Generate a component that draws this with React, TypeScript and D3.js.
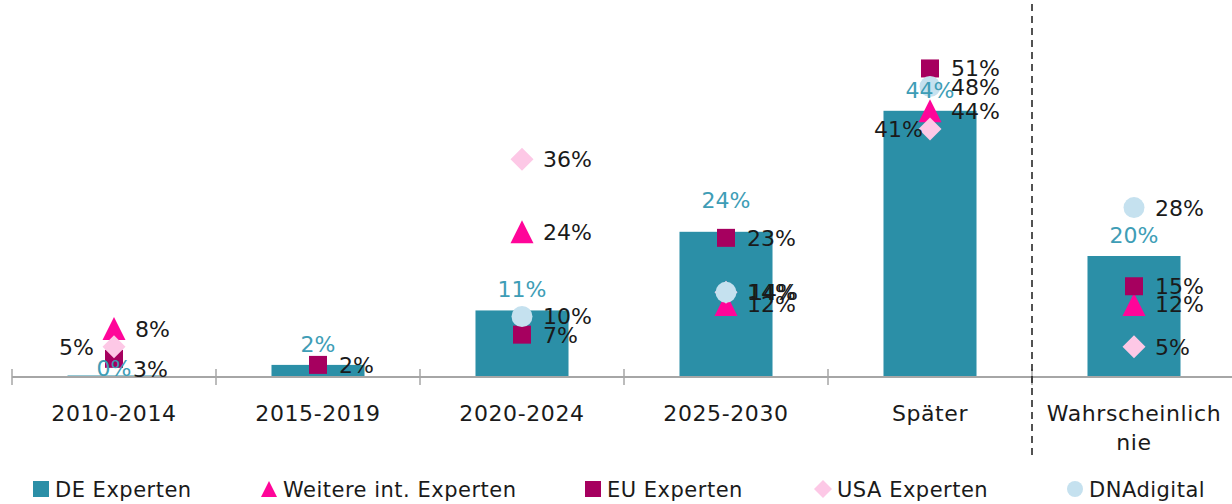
import * as d3 from "d3";

// categories on the x axis
const categories = ["2010-2014", "2015-2019", "2020-2024", "2025-2030", "Später", "Wahrscheinlich nie"];
const tickLines = [["2010-2014"], ["2015-2019"], ["2020-2024"], ["2025-2030"], ["Später"], ["Wahrscheinlich", "nie"]];

// values in percent, null = no answer
const deExperten = [0, 2, 11, 24, 44, 20];
const weitereExperten = [8, null, 24, 12, 44, 12];
const euExperten = [3, 2, 7, 23, 51, 15];
const usaExperten = [5, null, 36, 14, 41, 5];
const dnaDigital = [null, null, 10, 14, 48, 28];

const W = 1232;
const H = 504;
const baseY = 377;

// isoceles triangle and square-diamond, like the office markers
const tri = {
  draw(ctx: any, size: number) {
    const s = Math.sqrt(size);
    ctx.moveTo(0, -s / 2);
    ctx.lineTo(s / 2, s / 2);
    ctx.lineTo(-s / 2, s / 2);
    ctx.closePath();
  },
};
const dia = {
  draw(ctx: any, size: number) {
    const s = Math.sqrt(size) / 2;
    ctx.moveTo(0, -s);
    ctx.lineTo(s, 0);
    ctx.lineTo(0, s);
    ctx.lineTo(-s, 0);
    ctx.closePath();
  },
};

const series = [
  { name: "Weitere int. Experten", values: weitereExperten, color: "#FF0599", type: tri, size: 23 * 23, legendSize: 16 * 16 },
  { name: "EU Experten", values: euExperten, color: "#A6005F", type: d3.symbolSquare, size: 18 * 18, legendSize: 16 * 16 },
  { name: "USA Experten", values: usaExperten, color: "#FDC8E6", type: dia, size: 23 * 23, legendSize: 18 * 18 },
  { name: "DNAdigital", values: dnaDigital, color: "#C5E1EF", type: d3.symbolCircle, size: Math.PI * 10.5 * 10.5, legendSize: Math.PI * 8 * 8 },
];

// label tweaks where the original moved labels by hand
const nudge: Record<string, { dx?: number; dy?: number; left?: boolean }> = {
  "EU Experten-0": { dy: 10, dx: -2 },
  "USA Experten-0": { left: true },
  "USA Experten-4": { left: true, dx: 13 },
  "USA Experten-3": { dx: 2 },
};
const deNudge = [12, 0, 0, -11, 0, 0];

const legendX = [33, 261, 585, 815, 1067];

export default function App() {
  const x = d3.scaleBand().domain(categories).range([12, 12 + 204 * categories.length]).padding(0);
  const y = d3.scaleLinear().domain([0, 60]).range([baseY, baseY - 60 * 6.05]);
  const bw = x.bandwidth() * 0.456;
  const cx = (c: string) => (x(c) as number) + x.bandwidth() / 2;
  const font = "DejaVu Sans, Verdana, sans-serif";

  const legendItems = [
    { name: "DE Experten", color: "#2B8FA7", type: d3.symbolSquare, legendSize: 16 * 16 },
    ...series,
  ];

  return (
    <svg width={W} height={H} style={{ position: "absolute", left: 0, top: 0 }} fontFamily={font}>
      {/* bars */}
      {categories.map((c, i) => (
        <rect key={c} x={cx(c) - bw / 2} y={y(deExperten[i]) - (deExperten[i] === 0 ? 1.5 : 0)}
          width={bw} height={Math.max(1.5, baseY - y(deExperten[i]))} fill="#2B8FA7" />
      ))}

      {/* axis line + ticks */}
      <line x1={12} x2={W} y1={baseY} y2={baseY} stroke="#A6A6A6" strokeWidth={2} />
      {d3.range(categories.length + 1).map((i) => {
        const tx = 12 + i * x.step();
        return <line key={i} x1={tx} x2={tx} y1={baseY - 8} y2={baseY + 8} stroke="#A6A6A6" strokeWidth={1.5} />;
      })}

      {/* dashed separator */}
      <line x1={x(categories[5]) as number} x2={x(categories[5]) as number} y1={4} y2={458}
        stroke="#1a1a1a" strokeWidth={1.5} strokeDasharray="7,5" />

      {/* tick labels */}
      {categories.map((c, i) => (
        <text key={c} x={cx(c)} y={421} textAnchor="middle" fontSize={22} fill="#1a1a1a" letterSpacing={0.6}>
          {tickLines[i].map((l, j) => (
            <tspan key={j} x={cx(c)} dy={j === 0 ? 0 : 29}>{l}</tspan>
          ))}
        </text>
      ))}

      {/* markers */}
      {series.map((s) => (
        <g key={s.name}>
          {s.values.map((v, i) => v === null ? null : (
            <path key={i} transform={`translate(${cx(categories[i])},${y(v)})`}
              d={d3.symbol().type(s.type as any).size(s.size)() as string} fill={s.color} />
          ))}
        </g>
      ))}

      {/* DE labels above bars */}
      {categories.map((c, i) => (
        <text key={c} x={cx(c)} y={y(deExperten[i]) - 21 + deNudge[i]} dy="0.36em" textAnchor="middle"
          fontSize={22} fill="#3E9DB6">{deExperten[i]}%</text>
      ))}

      {/* marker labels */}
      {series.map((s) => (
        <g key={s.name}>
          {s.values.map((v, i) => {
            if (v === null) return null;
            const n = nudge[`${s.name}-${i}`] || {};
            const px = cx(categories[i]) + (n.left ? -20 : 21) + (n.dx || 0);
            return (
              <text key={i} x={px} y={y(v) + (n.dy || 0)} dy="0.36em" textAnchor={n.left ? "end" : "start"}
                fontSize={22} fill="#1a1a1a">{v}%</text>
            );
          })}
        </g>
      ))}

      {/* legend */}
      {legendItems.map((it, i) => (
        <g key={it.name} transform={`translate(${legendX[i]},489)`}>
          <path transform={`translate(8,0)`} d={d3.symbol().type(it.type as any).size(it.legendSize)() as string} fill={it.color} />
          <text x={22} y={0} dy="0.36em" fontSize={21} letterSpacing={0.5} fill="#1a1a1a">{it.name}</text>
        </g>
      ))}
    </svg>
  );
}
